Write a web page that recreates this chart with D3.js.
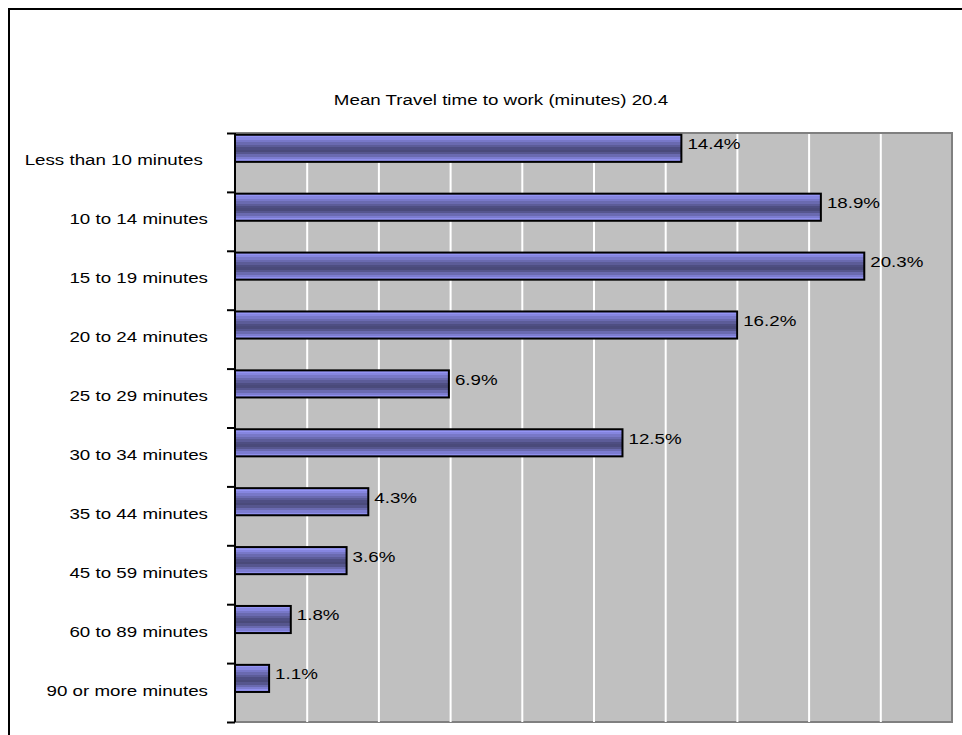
<!DOCTYPE html>
<html>
<head>
<meta charset="utf-8">
<script src="https://cdn.jsdelivr.net/npm/d3@7/dist/d3.min.js"></script>
<style>
  html, body { margin: 0; padding: 0; background: #fff; }
  svg { display: block; font-family: "Liberation Sans", Arial, sans-serif; }
</style>
</head>
<body>
<svg id="chart" width="962" height="735"></svg>
<script>
// Commute time distribution
const categories = [
  "Less than 10 minutes ",
  "10 to 14 minutes",
  "15 to 19 minutes",
  "20 to 24 minutes",
  "25 to 29 minutes",
  "30 to 34 minutes",
  "35 to 44 minutes",
  "45 to 59 minutes",
  "60 to 89 minutes",
  "90 or more minutes"
];
const shares = [14.4, 18.9, 20.3, 16.2, 6.9, 12.5, 4.3, 3.6, 1.8, 1.1];
const valueLabels = ["14.4%", "18.9%", "20.3%", "16.2%", "6.9%", "12.5%", "4.3%", "3.6%", "1.8%", "1.1%"];
const chartTitle = "Mean Travel time to work (minutes) 20.4";
const axisMax = 23.13;
const gridCount = 10;

const svg = d3.select("#chart");
const plot = { left: 235, top: 133, right: 952, bottom: 722 };
const stretch = 1.25; // horizontal text stretch of the original layout
const fontSize = 15;

// outer frame
svg.append("rect")
  .attr("x", 9).attr("y", 9)
  .attr("width", 990).attr("height", 760)
  .attr("fill", "none").attr("stroke", "#000").attr("stroke-width", 2);

const x = d3.scaleLinear().domain([0, axisMax]).range([plot.left, plot.right]);
const y = d3.scaleBand().domain(categories).range([plot.top, plot.bottom]);
const yEdge = d3.scaleLinear().domain([0, categories.length]).range([plot.top, plot.bottom]);

// plot area
svg.append("rect")
  .attr("x", plot.left).attr("y", plot.top)
  .attr("width", plot.right - plot.left).attr("height", plot.bottom - plot.top)
  .attr("fill", "#c0c0c0");
svg.append("path")
  .attr("d", `M${plot.left},${plot.top}H${plot.right}V${plot.bottom}H${plot.left}`)
  .attr("fill", "none").attr("stroke", "#808080").attr("stroke-width", 2);

// vertical gridlines
const gridVals = d3.range(1, gridCount).map(i => axisMax * i / gridCount);
const grid = svg.append("g")
  .attr("transform", `translate(0,${plot.bottom})`)
  .call(d3.axisBottom(x).tickValues(gridVals).tickSize(-(plot.bottom - plot.top - 1)).tickFormat(""));
grid.select(".domain").remove();
grid.selectAll(".tick line").attr("stroke", "#fff").attr("stroke-width", 2);

// banded gradient for the bars
const defs = svg.append("defs");
const grad = defs.append("linearGradient")
  .attr("id", "barGrad").attr("x1", 0).attr("y1", 0).attr("x2", 0).attr("y2", 1);
const bands = ["#9494f4", "#8686e0", "#7878c8", "#6a6ab0", "#5c5c98", "#4e4e82", "#4a4a7a", "#56568e", "#6a6ab0", "#7c7cd0", "#9090ee"];
bands.forEach((c, i) => {
  grad.append("stop").attr("offset", i / bands.length).attr("stop-color", c);
  grad.append("stop").attr("offset", (i + 1) / bands.length).attr("stop-color", c);
});

const bw = y.bandwidth();
const barOff = bw * 0.03;
const barH = bw * 0.46;

svg.append("g").selectAll("rect")
  .data(shares)
  .join("rect")
  .attr("x", x(0))
  .attr("y", (d, i) => y(categories[i]) + barOff)
  .attr("width", d => x(d) - x(0))
  .attr("height", barH)
  .attr("fill", "url(#barGrad)")
  .attr("stroke", "#000")
  .attr("stroke-width", 2);

// left axis with ticks on the category boundaries
const yAxis = svg.append("g")
  .attr("transform", `translate(${plot.left},0)`)
  .call(d3.axisLeft(yEdge).tickValues(d3.range(categories.length + 1)).tickSize(8).tickFormat(""));
yAxis.select(".domain").attr("stroke", "#000").attr("stroke-width", 2).attr("d", `M0,${plot.top}V${plot.bottom}`);
yAxis.selectAll(".tick line").attr("stroke", "#000").attr("stroke-width", 2);

// category labels
svg.append("g").selectAll("text")
  .data(categories)
  .join("text")
  .attr("transform", d => `translate(208,${y(d) + bw / 2 - 1}) scale(${stretch},1)`)
  .attr("text-anchor", "end")
  .attr("dominant-baseline", "middle")
  .style("white-space", "pre")
  .attr("font-size", fontSize)
  .attr("fill", "#000")
  .text(d => d);

// value labels
svg.append("g").selectAll("text")
  .data(shares)
  .join("text")
  .attr("transform", (d, i) => `translate(${x(d) + 6},${y(categories[i]) + barOff + barH / 2 - 3}) scale(${stretch},1)`)
  .attr("dominant-baseline", "middle")
  .attr("font-size", fontSize)
  .attr("fill", "#000")
  .text((d, i) => valueLabels[i]);

// title
svg.append("text")
  .attr("transform", `translate(501,101) scale(${stretch},1)`)
  .attr("text-anchor", "middle")
  .attr("dominant-baseline", "middle")
  .attr("font-size", fontSize)
  .attr("fill", "#000")
  .text(chartTitle);
</script>
</body>
</html>
